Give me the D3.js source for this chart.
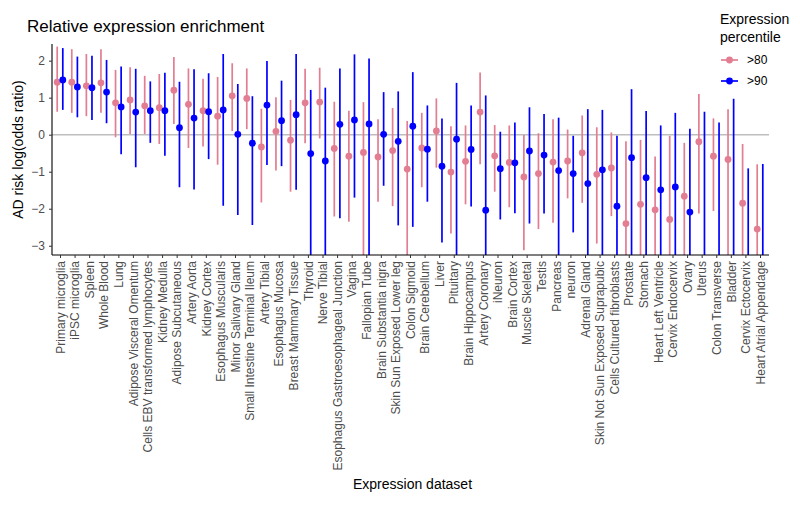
<!DOCTYPE html>
<html><head><meta charset="utf-8">
<script src="https://cdn.jsdelivr.net/npm/d3@7"></script>
<style>body{margin:0;background:#fff}svg{display:block}text{font-family:"Liberation Sans",Arial,Helvetica,sans-serif}</style>
</head><body><svg id="c" width="800" height="506"></svg>
<script>
const categories = ["Primary microglia","iPSC microglia","Spleen","Whole Blood","Lung","Adipose Visceral Omentum","Cells EBV transformed lymphocytes","Kidney Medulla","Adipose Subcutaneous","Artery Aorta","Kidney Cortex","Esophagus Muscularis","Minor Salivary Gland","Small Intestine Terminal Ileum","Artery Tibial","Esophagus Mucosa","Breast Mammary Tissue","Thyroid","Nerve Tibial","Esophagus Gastroesophageal Junction","Vagina","Fallopian Tube","Brain Substantia nigra","Skin Sun Exposed Lower leg","Colon Sigmoid","Brain Cerebellum","Liver","Pituitary","Brain Hippocampus","Artery Coronary","iNeuron","Brain Cortex","Muscle Skeletal","Testis","Pancreas","neuron","Adrenal Gland","Skin Not Sun Exposed Suprapubic","Cells Cultured fibroblasts","Prostate","Stomach","Heart Left Ventricle","Cervix Endocervix","Ovary","Uterus","Colon Transverse","Bladder","Cervix Ectocervix","Heart Atrial Appendage"];
// >80 percentile: estimate, lower, upper
const p80_est = [1.42,1.42,1.32,1.40,0.86,0.94,0.78,0.73,1.20,0.82,0.65,0.50,1.05,0.98,-0.33,0.09,-0.15,0.86,0.88,-0.37,-0.58,-0.48,-0.60,-0.43,-0.93,-0.36,0.10,-1.01,-0.72,0.61,-0.57,-0.75,-1.14,-1.05,-0.74,-0.71,-0.49,-1.07,-0.90,-2.40,-1.88,-2.03,-2.29,-1.66,-0.19,-0.58,-0.67,-1.85,-2.55];
const p80_lo  = [0.62,0.59,0.50,0.59,-0.07,0.02,0.02,-0.25,0.29,-0.36,-0.32,-0.81,0.10,0.15,-1.83,-0.97,-1.54,-0.23,-0.10,-2.21,-2.35,-3.6,-1.81,-1.93,-3.6,-1.42,-0.89,-2.67,-1.88,-0.80,-1.54,-1.96,-3.12,-2.55,-2.38,-1.72,-1.84,-2.94,-2.20,-4.8,-4.2,-4.5,-4.8,-4.0,-2.13,-2.06,-4.0,-4.2,-5.0];
const p80_hi  = [2.38,2.31,2.18,2.31,1.75,1.82,1.59,1.64,2.10,1.79,1.51,1.56,1.93,1.79,0.70,1.01,0.94,1.78,1.81,0.89,0.65,0.88,0.42,0.72,0.37,0.59,0.98,0.23,0.25,1.68,0.26,0.25,-0.01,0.04,0.42,0.14,0.52,0.20,0.06,-0.18,-0.14,-0.59,-0.03,-0.22,1.10,0.44,0.69,-0.25,-0.80];
// >90 percentile: estimate, lower, upper
const p90_est = [1.48,1.29,1.27,1.15,0.75,0.61,0.65,0.65,0.19,0.45,0.62,0.67,0.01,-0.23,0.80,0.38,0.54,-0.51,-0.71,0.28,0.40,0.29,0.01,-0.18,0.23,-0.39,-0.85,-0.12,-0.40,-2.04,-0.92,-0.76,-0.44,-0.55,-0.97,-1.05,-1.32,-0.95,-1.93,-0.62,-1.16,-1.49,-1.41,-2.09,-3.6,-3.7,-3.5,-4.2,-4.1];
const p90_lo  = [0.67,0.47,0.40,0.31,-0.53,-0.88,-0.22,-0.57,-1.42,-1.48,-0.66,-1.92,-2.17,-2.44,-0.82,-0.85,-1.49,-3.6,-3.8,-2.26,-1.70,-3.6,-1.38,-2.45,-2.49,-1.81,-2.91,-3.5,-1.94,-4.0,-2.29,-2.12,-2.40,-2.13,-3.5,-2.64,-3.9,-3.7,-4.2,-3.6,-3.7,-4.0,-3.9,-4.3,-7.0,-7.0,-7.0,-7.5,-7.5];
const p90_hi  = [2.34,2.11,2.13,2.02,1.84,1.78,1.44,1.67,1.43,1.77,1.66,2.18,1.37,1.04,1.99,1.46,2.18,1.21,1.27,1.79,2.17,2.06,1.15,1.17,1.69,0.79,0.44,1.40,0.79,1.06,0.08,0.33,0.74,0.56,0.46,-0.03,0.69,0.67,-0.03,1.23,0.64,0.25,0.59,0.16,0.62,0.33,0.97,-0.91,-0.79];
const yTicks = [-3,-2,-1,0,1,2];
const seriesNames = [">80", ">90"];
const seriesColors = ["#e27d92", "#0000ff"];

const svg = d3.select("#c");
const L = 52, R = 769, T = 44, B = 255;
const x = d3.scalePoint().domain(categories).range([60, 760]);
const y = d3.scaleLinear().domain([-3.25, 2.45]).range([B, T]);
const dodge = 2.8;

svg.append("defs").append("clipPath").attr("id","clip")
  .append("rect").attr("x",L).attr("y",T).attr("width",R-L).attr("height",B-T);

// zero line
svg.append("line").attr("x1",L).attr("x2",R).attr("y1",y(0)).attr("y2",y(0))
  .attr("stroke","#bebebe").attr("stroke-width",1.4);

const series = [
  {name: seriesNames[0], color: seriesColors[0], est: p80_est, lo: p80_lo, hi: p80_hi, off: -dodge},
  {name: seriesNames[1], color: seriesColors[1], est: p90_est, lo: p90_lo, hi: p90_hi, off: dodge}
];
const g = svg.append("g").attr("clip-path","url(#clip)");
series.forEach(s => {
  const data = categories.map((c,i) => ({c, e: s.est[i], lo: s.lo[i], hi: s.hi[i]}));
  g.selectAll(null).data(data).enter().append("line")
    .attr("x1", d => x(d.c)+s.off).attr("x2", d => x(d.c)+s.off)
    .attr("y1", d => y(d.lo)).attr("y2", d => y(d.hi))
    .attr("stroke", s.color).attr("stroke-width", 1.7);
  g.selectAll(null).data(data).enter().append("circle")
    .attr("cx", d => x(d.c)+s.off).attr("cy", d => y(d.e)).attr("r", 3.4)
    .attr("fill", s.color);
});

// axes
const yAxis = svg.append("g").attr("transform",`translate(${L},0)`)
  .call(d3.axisLeft(y).tickValues(yTicks).tickSize(3).tickPadding(4).tickFormat(d => d < 0 ? "\u2212" + Math.abs(d) : d));
yAxis.select(".domain").attr("d", `M0,${T}V${B}`).attr("stroke","#000").attr("stroke-width",1.1);
yAxis.selectAll(".tick line").attr("stroke","#333");
yAxis.selectAll(".tick text").attr("fill","#4d4d4d").attr("font-size",12).style("font-family","Liberation Sans, Arial, sans-serif");

const xAxis = svg.append("g").attr("transform",`translate(0,${B})`)
  .call(d3.axisBottom(x).tickSize(3).tickPadding(2));
xAxis.select(".domain").attr("d", `M${L},0H${R}`).attr("stroke","#000").attr("stroke-width",1.1);
xAxis.selectAll(".tick line").attr("stroke","#333");
xAxis.selectAll(".tick text")
  .attr("fill","#4d4d4d").attr("font-size",12).style("font-family","Liberation Sans, Arial, sans-serif")
  .attr("transform","rotate(-90)").attr("text-anchor","end")
  .attr("x",-6).attr("y",0).attr("dy","0.35em");

// titles
svg.append("text").attr("x",27).attr("y",32).attr("font-size",17).attr("fill","#000")
  .text("Relative expression enrichment");
svg.append("text").attr("transform",`translate(23,${(T+B)/2}) rotate(-90)`).attr("text-anchor","middle")
  .attr("font-size",14).attr("fill","#000").text("AD risk log(odds ratio)");
svg.append("text").attr("x",(L+R)/2 + 2).attr("y",489).attr("text-anchor","middle")
  .attr("font-size",14).attr("fill","#000").text("Expression dataset");

// legend
const lg = svg.append("g");
lg.append("text").attr("x",720).attr("y",24).attr("font-size",14).attr("fill","#000").text("Expression");
lg.append("text").attr("x",720).attr("y",42).attr("font-size",14).attr("fill","#000").text("percentile");
series.forEach((s,i) => {
  const yy = 60 + i*21;
  lg.append("line").attr("x1",721).attr("x2",738).attr("y1",yy).attr("y2",yy).attr("stroke",s.color).attr("stroke-width",1.7);
  lg.append("circle").attr("cx",729.5).attr("cy",yy).attr("r",3.4).attr("fill",s.color);
  lg.append("text").attr("x",747).attr("y",yy).attr("dy","0.35em").attr("font-size",12).attr("fill","#000").text(s.name);
});
</script></body></html>
